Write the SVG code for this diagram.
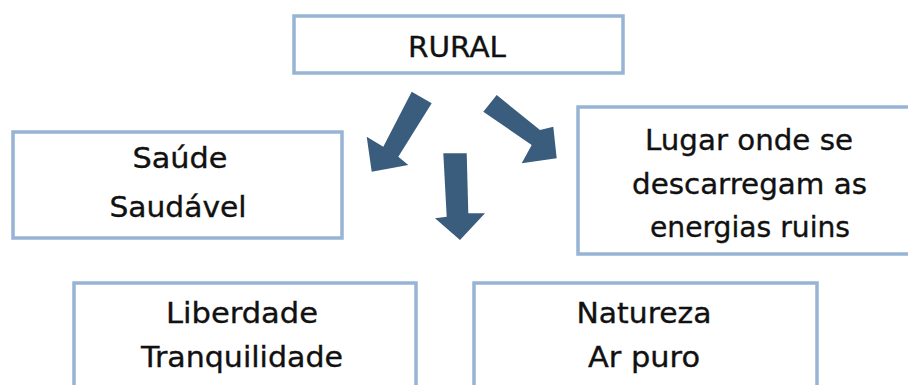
<svg xmlns="http://www.w3.org/2000/svg" width="908" height="385" viewBox="0 0 908 385">
<style>
.box{fill:#ffffff;stroke:#97b4d4;stroke-width:3.5}
.t{font-family:"DejaVu Sans","Liberation Sans",sans-serif;font-size:28px;fill:#111111;stroke:#111111;stroke-width:0.35;text-anchor:middle}
.arr{fill:#3a5d7e}
</style>
<rect width="908" height="385" fill="#ffffff"/>
<g id="rural">
<rect class="box" x="294" y="16" width="329" height="57"/>
<text class="t" x="457" y="57" font-size="31" textLength="98" lengthAdjust="spacingAndGlyphs">RURAL</text>
</g>
<g id="saude">
<rect class="box" x="13" y="132" width="329" height="106"/>
<text class="t" x="180" y="168" textLength="95" lengthAdjust="spacingAndGlyphs">Saúde</text>
<text class="t" x="178" y="217" textLength="137" lengthAdjust="spacingAndGlyphs">Saudável</text>
</g>
<g id="lugar">
<rect class="box" x="578" y="107" width="345" height="147"/>
<text class="t" x="749" y="150" textLength="208" lengthAdjust="spacingAndGlyphs">Lugar onde se</text>
<text class="t" x="749.5" y="194" textLength="235" lengthAdjust="spacingAndGlyphs">descarregam as</text>
<text class="t" x="750" y="237" textLength="200" lengthAdjust="spacingAndGlyphs">energias ruins</text>
</g>
<g id="liberdade">
<rect class="box" x="74" y="283" width="342" height="130"/>
<text class="t" x="242" y="323" textLength="152" lengthAdjust="spacingAndGlyphs">Liberdade</text>
<text class="t" x="242" y="367" textLength="202" lengthAdjust="spacingAndGlyphs">Tranquilidade</text>
</g>
<g id="natureza">
<rect class="box" x="474" y="283" width="343" height="130"/>
<text class="t" x="644" y="323" textLength="135" lengthAdjust="spacingAndGlyphs">Natureza</text>
<text class="t" x="644" y="367" textLength="112" lengthAdjust="spacingAndGlyphs">Ar puro</text>
</g>
<g id="connectors">
<polygon class="arr" points="411.7,91.7 431.7,103.3 398.3,156.7 408.3,165 371.7,171.7 366.7,136.7 383.3,146.7"/>
<polygon class="arr" points="443.3,153.3 466.7,153.3 468.3,213.3 485,213.3 460,240 435,218.3 446.7,216.7"/>
<polygon class="arr" points="496.7,95 540,130 553.3,126.7 556.7,158.3 521.7,163.3 531.7,145 483.3,111.7"/>
</g>
</svg>
